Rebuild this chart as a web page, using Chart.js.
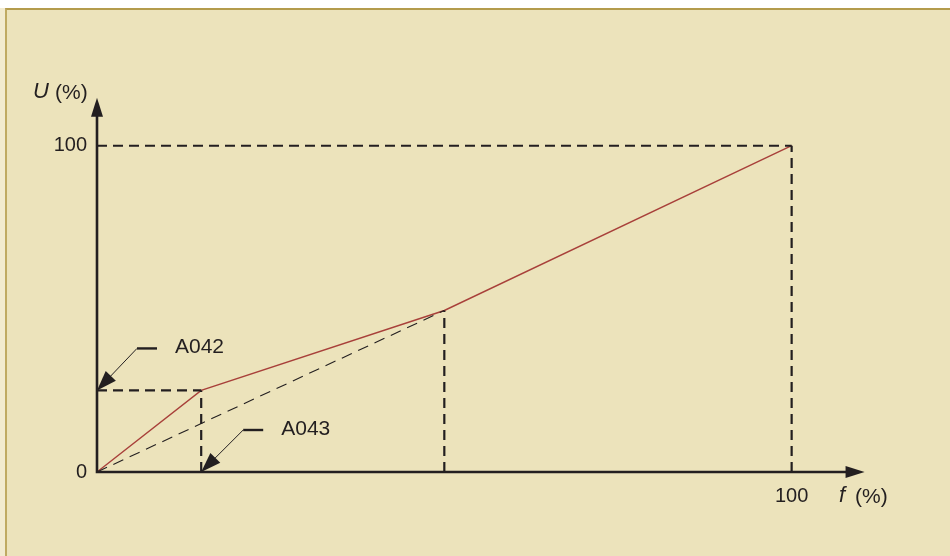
<!DOCTYPE html>
<html>
<head>
<meta charset="utf-8">
<script src="https://cdn.jsdelivr.net/npm/chart.js@4/dist/chart.umd.min.js"></script>
<style>
  html, body { margin: 0; padding: 0; background: #fff; }
  #frame { position: absolute; left: 0; top: 8px; width: 950px; height: 548px; background: #f2ebcf; }
  #panel { position: absolute; left: 5px; top: 0; right: 0; bottom: 0; background: #ece3bb;
           border-left: 2px solid #bfaa62; border-top: 2px solid #b49c4c; }
  #wrap { position: absolute; left: 0; top: 0; width: 950px; height: 556px; }
</style>
</head>
<body>
<div id="frame"><div id="panel"></div></div>
<div id="wrap"><canvas id="vf" width="950" height="556"></canvas></div>
<script>
// U/f characteristic: frequency (%) vs voltage (%)
const freq = [0, 15, 50, 100];
const volt = [0, 25, 49.5, 100];
const xTicks = [100];
const yTicks = [0, 100];
const xAxisEnd = 110.5;
const yAxisEnd = 114.7;

const FONT = '"Liberation Sans", Arial, sans-serif';
const INK = '#231f20';

function seg(x0, y0, x1, y1) {
  return [{ x: x0, y: y0 }, { x: x1, y: y1 }];
}

const guide = {
  borderColor: INK, borderWidth: 2.2, borderDash: [10, 6],
  pointRadius: 0, fill: false, clip: false
};

const datasets = [
  // reference lines
  Object.assign({ data: seg(0, volt[3], freq[3], volt[3]) }, guide),
  Object.assign({ data: seg(freq[3], 0, freq[3], volt[3]) }, guide),
  Object.assign({ data: seg(freq[2], 0, freq[2], volt[2]) }, guide),
  Object.assign({ data: seg(0, volt[1], freq[1], volt[1]) }, guide),
  Object.assign({ data: seg(freq[1], 0, freq[1], volt[1]) }, guide),
  // linear U/f without boost
  { data: seg(0, 0, freq[2], volt[2]), borderColor: INK, borderWidth: 1.1,
    borderDash: [11, 7], pointRadius: 0, clip: false },
  // characteristic with boost
  { data: freq.map((f, i) => ({ x: f, y: volt[i] })), borderColor: '#a8403a',
    borderWidth: 1.4, pointRadius: 0, clip: false }
];

function arrowHead(ctx, tx, ty, angle, len, half) {
  ctx.save();
  ctx.translate(tx, ty);
  ctx.rotate(angle);
  ctx.beginPath();
  ctx.moveTo(0, 0);
  ctx.lineTo(-len, -half);
  ctx.lineTo(-len, half);
  ctx.closePath();
  ctx.fill();
  ctx.restore();
}

const decor = {
  id: 'decor',
  afterDatasetsDraw(chart) {
    const ctx = chart.ctx;
    const sx = chart.scales.x, sy = chart.scales.y;
    const ox = sx.getPixelForValue(0), oy = sy.getPixelForValue(0);
    const xEnd = sx.getPixelForValue(xAxisEnd), yEnd = sy.getPixelForValue(yAxisEnd);
    ctx.save();
    ctx.strokeStyle = INK;
    ctx.fillStyle = INK;
    ctx.lineWidth = 2.6;
    ctx.beginPath();
    ctx.moveTo(ox, oy); ctx.lineTo(xEnd - 10, oy);
    ctx.moveTo(ox, oy + 1.3); ctx.lineTo(ox, yEnd + 10);
    ctx.stroke();
    arrowHead(ctx, xEnd, oy, 0, 19, 6);
    arrowHead(ctx, ox, yEnd, -Math.PI / 2, 19, 6);

    // tick labels
    ctx.font = '20px ' + FONT;
    ctx.textBaseline = 'middle';
    ctx.textAlign = 'right';
    yTicks.forEach(v => ctx.fillText(String(v), ox - 10, sy.getPixelForValue(v)));
    ctx.textAlign = 'center';
    xTicks.forEach(v => ctx.fillText(String(v), sx.getPixelForValue(v), oy + 24));

    // axis titles
    ctx.textAlign = 'left';
    ctx.font = 'italic 22px ' + FONT;
    ctx.fillText('U', 33, 92);
    ctx.fillText('f', 839, 496);
    ctx.font = '21px ' + FONT;
    ctx.fillText('(%)', 55, 93);
    ctx.fillText('(%)', 855, 497);

    // parameter callouts
    const callouts = [
      { text: 'A042', tx: ox, ty: sy.getPixelForValue(volt[1]), dx: 40, dy: -42 },
      { text: 'A043', tx: sx.getPixelForValue(freq[1]), ty: oy, dx: 42, dy: -42 }
    ];
    callouts.forEach(c => {
      const kx = c.tx + c.dx, ky = c.ty + c.dy;
      const ang = Math.atan2(c.ty - ky, c.tx - kx);
      ctx.lineWidth = 1;
      ctx.beginPath();
      ctx.moveTo(c.tx - Math.cos(ang) * 14, c.ty - Math.sin(ang) * 14);
      ctx.lineTo(kx, ky);
      ctx.stroke();
      ctx.lineWidth = 2.4;
      ctx.beginPath();
      ctx.moveTo(kx, ky); ctx.lineTo(kx + 20, ky);
      ctx.stroke();
      arrowHead(ctx, c.tx, c.ty, ang, 20, 7);
      ctx.font = '21px ' + FONT;
      ctx.textAlign = 'left';
      ctx.fillText(c.text, kx + 38, ky - 1);
    });
    ctx.restore();
  }
};

new Chart(document.getElementById('vf'), {
  type: 'line',
  data: { datasets },
  options: {
    responsive: false,
    animation: false,
    layout: { padding: { left: 97, right: 75, top: 87, bottom: 84 } },
    plugins: { legend: { display: false }, tooltip: { enabled: false } },
    scales: {
      x: { type: 'linear', min: 0, max: 112, display: false },
      y: { type: 'linear', min: 0, max: 118, display: false }
    }
  },
  plugins: [decor]
});
</script>
</body>
</html>
